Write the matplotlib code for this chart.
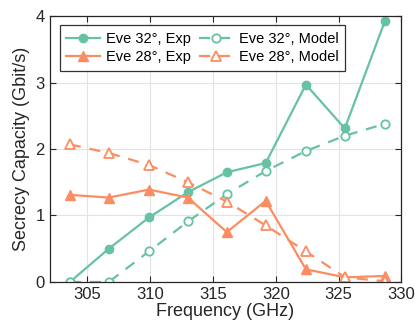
import matplotlib
matplotlib.use('Agg')
import matplotlib.pyplot as plt
import numpy as np

plt.rcParams['font.family'] = ['Liberation Sans', 'DejaVu Sans']

# frequencies (GHz)
freq = [303.6, 306.7, 309.9, 313.0, 316.1, 319.2, 322.4, 325.5, 328.7]

# secrecy capacity (Gbit/s)
eve32_exp = [0.0, 0.50, 0.97, 1.35, 1.65, 1.79, 2.97, 2.31, 3.93]
eve32_model = [0.0, 0.0, 0.46, 0.91, 1.32, 1.67, 1.97, 2.20, 2.38]
eve28_exp = [1.31, 1.27, 1.39, 1.27, 0.75, 1.22, 0.19, 0.07, 0.09]
eve28_model = [2.07, 1.94, 1.76, 1.50, 1.21, 0.85, 0.46, 0.07, 0.01]

green = '#66c2a5'
orange = '#fc8d62'

fig = plt.figure(figsize=(4.15, 3.29), dpi=100)
ax = fig.add_axes([0.12, 0.143, 0.847, 0.808])

l1, = ax.plot(freq, eve32_exp, '-o', color=green, lw=1.6, ms=6, label='Eve 32°, Exp')
l2, = ax.plot(freq, eve32_model, '--o', color=green, lw=1.6, ms=6, mfc='white',
              mew=1.3, dashes=(5, 4), label='Eve 32°, Model')
l3, = ax.plot(freq, eve28_exp, '-^', color=orange, lw=1.6, ms=7, label='Eve 28°, Exp')
l4, = ax.plot(freq, eve28_model, '--^', color=orange, lw=1.6, ms=7, mfc='white',
              mew=1.3, dashes=(5, 4), label='Eve 28°, Model')

ax.set_xlim(302, 330)
ax.set_ylim(0, 4)
ax.set_xticks([305, 310, 315, 320, 325, 330])
ax.set_yticks([0, 1, 2, 3, 4])
ax.grid(True, color='#e3e3e3', lw=0.8)
ax.set_axisbelow(True)
ax.tick_params(direction='in', length=4, labelsize=12, top=True, right=True,
               colors='#262626', labelcolor='#262626')
for s in ax.spines.values():
    s.set_color('#262626')
    s.set_linewidth(0.9)

ax.set_xlabel('Frequency (GHz)', fontsize=13, color='#262626', labelpad=1)
ax.set_ylabel('Secrecy Capacity (Gbit/s)', fontsize=13, color='#262626', labelpad=4)

leg = ax.legend([l1, l3, l2, l4], [l.get_label() for l in (l1, l3, l2, l4)],
                ncol=2, loc='upper left', bbox_to_anchor=(0.028, 0.966),
                fontsize=10.5, frameon=True, fancybox=False, edgecolor='black',
                borderpad=0.45, handlelength=2.3, handletextpad=0.4,
                columnspacing=0.6, labelspacing=0.3, borderaxespad=0)
leg.get_frame().set_linewidth(0.9)

fig.savefig('out.png', dpi=100)
